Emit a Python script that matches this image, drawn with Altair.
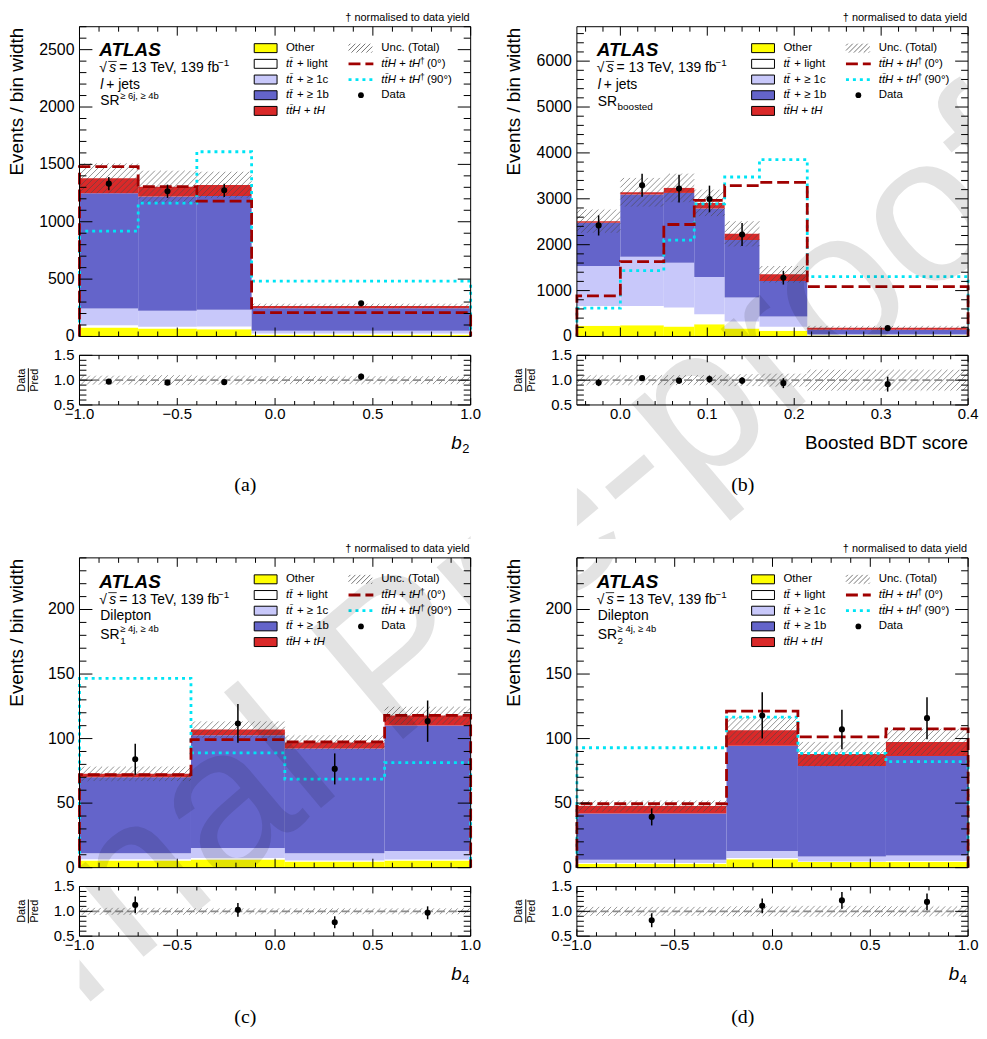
import math
import altair as alt
import pandas as pd

FONT = "Liberation Sans"
SERIF = "Liberation Serif"

PROCS = ["Other", "tt+light", "tt+1c", "tt+1b", "ttH+tH"]
PROC_COLORS = ["#ffff00", "#ffffff", "#c8c8fa", "#6464cb", "#da2a2a"]
CP0_COLOR = "#a00000"
CP90_COLOR = "#00e5f5"

# ---------------- panel (a): l+jets, SR >=6j >=4b, b2 ----------------
a_edges = [-1.0, -0.7, -0.4, -0.12, 1.0]
a_other = [78, 70, 64, 14]
a_light = [20, 14, 23, 12]
a_c = [145, 141, 147, 23]
a_b = [1006, 995, 991, 197]
a_tth = [130, 86, 96, 20]
a_unc = [130, 139, 115, 20]
a_data = [1332, 1266, 1274, 289]
a_data_err = [58, 58, 58, 17]
a_cp0 = [1480, 1306, 1179, 208]
a_cp90 = [919, 1162, 1610, 483]
a_ratio = [0.97, 0.95, 0.96, 1.07]
a_ratio_err = [0.04, 0.04, 0.04, 0.06]
a_ratio_unc = [0.09, 0.10, 0.09, 0.08]
a_xlabels = [-1.0, -0.5, 0.0, 0.5, 1.0]
a_ylabels = [0, 500, 1000, 1500, 2000, 2500]

# ---------------- panel (b): l+jets, SR boosted, BDT score ----------------
b_edges = [-0.05, 0.0, 0.05, 0.085, 0.12, 0.16, 0.215, 0.4]
b_other = [232, 246, 217, 268, 174, 123, 22]
b_light = [434, 420, 413, 217, 152, 87, 7]
b_c = [869, 1072, 977, 811, 521, 224, 21]
b_b = [942, 1355, 1521, 1491, 1253, 775, 95]
b_tth = [36, 50, 109, 124, 137, 145, 43]
b_unc = [253, 312, 311, 289, 275, 181, 44]
b_data = [2420, 3295, 3222, 2997, 2223, 1281, 181]
b_data_err = [220, 250, 300, 290, 250, 150, 30]
b_cp0 = [883, 1630, 2440, 2968, 3287, 3359, 1086]
b_cp90 = [616, 1434, 2100, 2889, 3475, 3852, 1303]
b_ratio = [0.95, 1.04, 0.99, 1.02, 0.99, 0.94, 0.92]
b_ratio_err = [0.07, 0.04, 0.06, 0.07, 0.07, 0.10, 0.15]
b_ratio_unc = [0.10, 0.10, 0.10, 0.10, 0.12, 0.13, 0.21]
b_xlabels = [0.0, 0.1, 0.2, 0.3, 0.4]
b_ylabels = [0, 1000, 2000, 3000, 4000, 5000, 6000]

# ---------------- panel (c): dilepton, SR1, b4 ----------------
c_edges = [-1.0, -0.43, 0.05, 0.56, 1.0]
c_other = [5.6, 6.4, 4.8, 5.6]
c_light = [1.0, 1.0, 0.8, 0.8]
c_c = [4.6, 7.9, 5.6, 6.4]
c_b = [58.8, 87.3, 81.1, 97.4]
c_tth = [2.7, 4.4, 4.7, 7.7]
c_unc = [5.6, 6.3, 5.6, 6.8]
c_data = [84, 111.7, 76.5, 113.5]
c_data_err = [12, 15, 12, 16]
c_cp0 = [72, 99.2, 97.4, 117.9]
c_cp90 = [146.7, 89, 68.6, 81.4]
c_ratio = [1.13, 1.03, 0.78, 0.97]
c_ratio_err = [0.17, 0.14, 0.12, 0.13]
c_ratio_unc = [0.07, 0.06, 0.06, 0.06]
c_xlabels = [-1.0, -0.5, 0.0, 0.5, 1.0]
c_ylabels = [0, 50, 100, 150, 200]

# ---------------- panel (d): dilepton, SR2, b4 ----------------
d_edges = [-1.0, -0.235, 0.13, 0.58, 1.0]
d_other = [3.1, 6.6, 4.3, 4.6]
d_light = [0.5, 0.8, 0.5, 0.5]
d_c = [2.5, 5.4, 3.9, 4.3]
d_b = [35.9, 81.6, 70.1, 77.1]
d_tth = [5.7, 12.0, 9.2, 10.9]
d_unc = [4.3, 10.2, 9.4, 10.2]
d_data = [39.3, 117.9, 107.1, 115.8]
d_data_err = [6.6, 17.9, 15.3, 16.3]
d_cp0 = [49.5, 121.2, 101.3, 107.6]
d_cp90 = [92.9, 116.6, 88.5, 82.1]
d_ratio = [0.82, 1.11, 1.22, 1.19]
d_ratio_err = [0.14, 0.15, 0.17, 0.17]
d_ratio_unc = [0.09, 0.10, 0.11, 0.10]
d_xlabels = [-1.0, -0.5, 0.0, 0.5, 1.0]
d_ylabels = [0, 50, 100, 150, 200]

ratio_ylabels = [0.5, 1.0, 1.5]

# ---------------- layout ----------------
W = 394
H = 312
RH = 50
GAP = 19
CS = 107
RS = 154
RCELL = RH + RS - GAP   # ratio cell includes room for its labels, title and caption
OX, OY = 80.5, 23.0     # approximate page origin of panel (a) plot

PANELS = [
    dict(edges=a_edges, other=a_other, light=a_light, c=a_c, b=a_b, tth=a_tth, unc=a_unc,
         data=a_data, err=a_data_err, cp0=a_cp0, cp90=a_cp90, ratio=a_ratio, rerr=a_ratio_err,
         runc=a_ratio_unc, xlabels=a_xlabels, ylabels=a_ylabels, ymax=2700, ymaj=500, ymin=100,
         xmaj=0.5, xmin=0.1, channel="ljets", sr="a", xtitle=("b", "2"), caption="(a)"),
    dict(edges=b_edges, other=b_other, light=b_light, c=b_c, b=b_b, tth=b_tth, unc=b_unc,
         data=b_data, err=b_data_err, cp0=b_cp0, cp90=b_cp90, ratio=b_ratio, rerr=b_ratio_err,
         runc=b_ratio_unc, xlabels=b_xlabels, ylabels=b_ylabels, ymax=6750, ymaj=1000, ymin=200,
         xmaj=0.1, xmin=0.02, channel="ljets", sr="b", xtitle=("Boosted BDT score", None), caption="(b)"),
    dict(edges=c_edges, other=c_other, light=c_light, c=c_c, b=c_b, tth=c_tth, unc=c_unc,
         data=c_data, err=c_data_err, cp0=c_cp0, cp90=c_cp90, ratio=c_ratio, rerr=c_ratio_err,
         runc=c_ratio_unc, xlabels=c_xlabels, ylabels=c_ylabels, ymax=240, ymaj=50, ymin=10,
         xmaj=0.5, xmin=0.1, channel="dilep", sr="c", xtitle=("b", "4"), caption="(c)"),
    dict(edges=d_edges, other=d_other, light=d_light, c=d_c, b=d_b, tth=d_tth, unc=d_unc,
         data=d_data, err=d_data_err, cp0=d_cp0, cp90=d_cp90, ratio=d_ratio, rerr=d_ratio_err,
         runc=d_ratio_unc, xlabels=d_xlabels, ylabels=d_ylabels, ymax=240, ymaj=50, ymin=10,
         xmaj=0.5, xmin=0.1, channel="dilep", sr="d", xtitle=("b", "4"), caption="(d)"),
]

OY2 = OY + H + GAP + RH + RS
ORIGINS = [
    ((OX, OY), (OX, OY + H + GAP)),
    ((OX + W + CS, OY), (OX + W + CS, OY + H + GAP)),
    ((OX, OY2), (OX, OY2 + H + GAP)),
    ((OX + W + CS, OY2), (OX + W + CS, OY2 + H + GAP)),
]
WM_TEXT = "Journal Pre-proof"
WM_CENTER = (402.0, 662.0)


def fmt_num(v, dec):
    s = f"{v:.{dec}f}" if dec else f"{int(round(v))}"
    return s.replace("-", "\u2212")


def tick_values(lo, hi, step):
    n0 = math.ceil(lo / step - 1e-9)
    n1 = math.floor(hi / step + 1e-9)
    return [round(k * step, 6) for k in range(n0, n1 + 1)]


def minor_values(lo, hi, step, major):
    majors = tick_values(lo, hi, major)
    return [v for v in tick_values(lo, hi, step) if all(abs(v - m) > step * 0.01 for m in majors)]


def T(t, x, y, fs, style="normal", weight="normal", align="left", baseline="alphabetic",
      angle=0, font=FONT, color="black", opacity=1.0):
    return dict(t=t, x=x, y=y, fs=fs, style=style, weight=weight, align=align,
                baseline=baseline, angle=angle, font=font, color=color, opacity=opacity)


def text_layers(items, clip=False):
    groups, order = {}, []
    for it in items:
        key = (it["style"], it["weight"], it["align"], it["baseline"], it["angle"],
               it["font"], it["color"], it["opacity"])
        if key not in groups:
            groups[key] = []
            order.append(key)
        groups[key].append(it)
    layers = []
    for key in order:
        style, weight, align, baseline, angle, font, color, op = key
        its = groups[key]
        df = pd.DataFrame({"tx": [i["x"] for i in its], "ty": [i["y"] for i in its],
                           "t": [i["t"] for i in its], "fs": [i["fs"] for i in its]})
        kw = dict(fontStyle=style, fontWeight=weight, align=align, baseline=baseline,
                  font=font, color=color, opacity=op)
        if angle:
            kw["angle"] = angle
        if clip:
            kw["clip"] = True
        layers.append(alt.Chart(df).mark_text(**kw).encode(
            x=alt.X("tx:Q", scale=None, axis=None),
            y=alt.Y("ty:Q", scale=None, axis=None),
            text=alt.Text("t:N"),
            size=alt.Size("fs:Q", scale=None, legend=None)))
    return layers


def ylabel_layer(vals, dec, ys, fs):
    df = pd.DataFrame({"v": vals, "lab": [fmt_num(v, dec) for v in vals]})
    return alt.Chart(df).mark_text(align="right", baseline="middle", font=FONT, fontSize=fs,
                                   color="black").encode(
        y=alt.Y("v:Q", scale=ys, axis=None), x=alt.value(-5), text=alt.Text("lab:N"))


def xlabel_layer(vals, dec, xs, fs, ypix):
    df = pd.DataFrame({"v": vals, "lab": [fmt_num(v, dec) for v in vals]})
    return alt.Chart(df).mark_text(align="center", baseline="top", font=FONT, fontSize=fs,
                                   color="black").encode(
        x=alt.X("v:Q", scale=xs, axis=None), y=alt.value(ypix), text=alt.Text("lab:N"))


def hatch_df(x0s, x1s, lo, hi, sx, sy, step=6.0, yoff=0.0):
    hx, hy, hx2, hy2 = [], [], [], []
    for xa, xb, ya, yb in zip(x0s, x1s, lo, hi):
        X0, X1 = xa * sx, xb * sx
        Y0, Y1 = (ya - yoff) * sy, (yb - yoff) * sy
        k0 = math.ceil((Y0 - X1) / step)
        k1 = math.floor((Y1 - X0) / step)
        for k in range(k0, k1 + 1):
            c = k * step
            xs_ = max(X0, Y0 - c)
            xe = min(X1, Y1 - c)
            if xe - xs_ > 0.3:
                hx.append(xs_ / sx)
                hy.append((xs_ + c) / sy + yoff)
                hx2.append(xe / sx)
                hy2.append((xe + c) / sy + yoff)
    return pd.DataFrame(dict(hx=hx, hy=hy, hx2=hx2, hy2=hy2))


def step_df(edges, vals):
    pts = [(edges[0], 0.0)]
    for i, v in enumerate(vals):
        pts.append((edges[i], v))
        pts.append((edges[i + 1], v))
    pts.append((edges[-1], 0.0))
    return pd.DataFrame({"sx": [p[0] for p in pts], "sy": [p[1] for p in pts], "o": list(range(len(pts)))})


def tick_layers(xs, ys, xmaj, xmin_, ymaj, ymin_, ph, ylen=(13, 7), xlen=(9, 5)):
    layers = []
    for vals, L in [(ymaj, ylen[0]), (ymin_, ylen[1])]:
        if not vals:
            continue
        df = pd.DataFrame({"v": vals})
        for a, b in [(0, L), (W - L, W)]:
            layers.append(alt.Chart(df).mark_rule(color="black", strokeWidth=1).encode(
                y=alt.Y("v:Q", scale=ys, axis=None), x=alt.value(a), x2=alt.value(b)))
    for vals, L in [(xmaj, xlen[0]), (xmin_, xlen[1])]:
        if not vals:
            continue
        df = pd.DataFrame({"v": vals})
        for a, b in [(0, L), (ph - L, ph)]:
            layers.append(alt.Chart(df).mark_rule(color="black", strokeWidth=1).encode(
                x=alt.X("v:Q", scale=xs, axis=None), y=alt.value(a), y2=alt.value(b)))
    return layers


def frame_layer(ph):
    df = pd.DataFrame({"x": [0], "x2": [W], "y": [0], "y2": [ph]})
    return alt.Chart(df).mark_rect(fillOpacity=0, stroke="black", strokeWidth=1).encode(
        x=alt.X("x:Q", scale=None, axis=None), x2="x2:Q",
        y=alt.Y("y:Q", scale=None, axis=None), y2="y2:Q")


def watermark_layers(origin):
    ox, oy = origin
    items = [T(WM_TEXT, WM_CENTER[0] - ox, WM_CENTER[1] - oy, 210, align="center",
               baseline="middle", angle=320, color="black", opacity=0.11)]
    return text_layers(items, clip=True)


LEG_CY = [21.6 + 15.8 * i for i in range(5)]
LF = 11.5


def legend_layers():
    layers = []
    cy = LEG_CY
    rects = pd.DataFrame({"x": [176] * 5, "x2": [199] * 5, "y": [c - 4.5 for c in cy],
                          "y2": [c + 4.5 for c in cy], "fill": PROC_COLORS})
    layers.append(alt.Chart(rects).mark_rect(stroke="black", strokeWidth=1).encode(
        x=alt.X("x:Q", scale=None, axis=None), x2="x2:Q",
        y=alt.Y("y:Q", scale=None, axis=None), y2="y2:Q",
        fill=alt.Fill("fill:N", scale=None, legend=None)))
    h = hatch_df([271], [295], [-(cy[0] + 4.5)], [-(cy[0] - 4.5)], 1.0, 1.0, step=5.0)
    h["hy"] = -h["hy"]
    h["hy2"] = -h["hy2"]
    layers.append(alt.Chart(h).mark_rule(color="#666666", strokeWidth=0.9).encode(
        x=alt.X("hx:Q", scale=None, axis=None), x2="hx2:Q",
        y=alt.Y("hy:Q", scale=None, axis=None), y2="hy2:Q"))
    for row, color, dash in [(1, CP0_COLOR, [12, 5]), (2, CP90_COLOR, [3, 4])]:
        df = pd.DataFrame({"x": [271], "x2": [296], "y": [cy[row]]})
        layers.append(alt.Chart(df).mark_rule(color=color, strokeDash=dash, strokeWidth=2.8).encode(
            x=alt.X("x:Q", scale=None, axis=None), x2="x2:Q", y=alt.Y("y:Q", scale=None, axis=None)))
    df = pd.DataFrame({"x": [283.5], "y": [cy[3]]})
    layers.append(alt.Chart(df).mark_circle(color="black", opacity=1, size=34).encode(
        x=alt.X("x:Q", scale=None, axis=None), y=alt.Y("y:Q", scale=None, axis=None)))
    df = pd.DataFrame({"x": [29.0], "x2": [37.5], "y": [35.0]})
    layers.append(alt.Chart(df).mark_rule(color="black", strokeWidth=0.8).encode(
        x=alt.X("x:Q", scale=None, axis=None), x2="x2:Q", y=alt.Y("y:Q", scale=None, axis=None)))
    return layers


def main_text_items(p):
    it = []
    it.append(T("ATLAS", 20, 30, 19, style="italic", weight="bold"))
    it.append(T("√", 20, 46, 14))
    it.append(T("s", 30, 46, 14, style="italic"))
    it.append(T("= 13 TeV, 139 fb", 40, 46, 14))
    it.append(T("−1", 139.5, 40, 10))
    if p["channel"] == "ljets":
        it.append(T("l", 21, 63, 14, style="italic"))
        it.append(T("+ jets", 27, 63, 14))
    else:
        it.append(T("Dilepton", 21, 63, 14))
    if p["sr"] == "a":
        it.append(T("SR", 21, 79, 14))
        it.append(T("≥ 6j, ≥ 4b", 41, 73, 9.5))
    elif p["sr"] == "b":
        it.append(T("SR", 21, 80, 14))
        it.append(T("boosted", 41, 84, 10))
    else:
        it.append(T("SR", 21, 82, 14))
        it.append(T("1" if p["sr"] == "c" else "2", 41, 87, 10))
        it.append(T("≥ 4j, ≥ 4b", 41, 75, 9.5))
    cy = LEG_CY
    it.append(T("Other", 208, cy[0], LF, baseline="middle"))
    for i, suf in [(1, "+ light"), (2, "+ ≥ 1c"), (3, "+ ≥ 1b")]:
        it.append(T("tt̄", 208, cy[i], LF, style="italic", baseline="middle"))
        it.append(T(suf, 219, cy[i], LF, baseline="middle"))
    it.append(T("tt̄H + tH", 208, cy[4], LF, style="italic", baseline="middle"))
    it.append(T("Unc. (Total)", 304, cy[0], LF, baseline="middle"))
    for i, ang in [(1, "(0°)"), (2, "(90°)")]:
        it.append(T("tt̄H + tH", 304, cy[i], LF, style="italic", baseline="middle"))
        it.append(T("†", 343, cy[i] - 3, 8.5, baseline="middle"))
        it.append(T(ang, 350, cy[i], LF, baseline="middle"))
    it.append(T("Data", 304, cy[3], LF, baseline="middle"))
    it.append(T("† normalised to data yield", W - 1, -6, 11, align="right"))
    it.append(T("Events / bin width", -63, 1, 19, align="right", baseline="middle", angle=270))
    return it


def ratio_text_items(p):
    it = []
    it.append(T("Data", -58, 25, 11, align="center", baseline="middle", angle=270))
    it.append(T("Pred", -45, 25, 11, align="center", baseline="middle", angle=270))
    t1, t2 = p["xtitle"]
    if t2 is None:
        it.append(T(t1, W, 94, 19, align="right"))
    else:
        it.append(T(t1, W - 9, 94, 19, style="italic", align="right"))
        it.append(T(t2, W - 8.5, 98, 13))
    it.append(T(p["caption"], W / 2 - 30, 137, 20, align="center", font=SERIF))
    return it


def build_panel(p, origins):
    edges = p["edges"]
    n = len(edges) - 1
    x0, x1 = edges[0], edges[-1]
    ymax = p["ymax"]
    xs = alt.Scale(domain=[x0, x1], nice=False, zero=False)
    ys = alt.Scale(domain=[0, ymax], nice=False, zero=False)
    comps = [p["other"], p["light"], p["c"], p["b"], p["tth"]]
    rows, totals = [], []
    for i in range(n):
        base = 0.0
        for name, vals in zip(PROCS, comps):
            rows.append({"x": edges[i], "x2": edges[i + 1], "y": base, "y2": base + vals[i], "proc": name})
            base += vals[i]
        totals.append(base)
    centers = [(edges[i] + edges[i + 1]) / 2 for i in range(n)]
    xdec = 1

    ml = []
    ml.append(alt.Chart(pd.DataFrame(rows)).mark_rect(strokeWidth=0).encode(
        x=alt.X("x:Q", scale=xs, axis=None), x2="x2:Q",
        y=alt.Y("y:Q", scale=ys, axis=None), y2="y2:Q",
        color=alt.Color("proc:N", scale=alt.Scale(domain=PROCS, range=PROC_COLORS), legend=None)))
    sx = W / (x1 - x0)
    sy = H / ymax
    lo = [t - u for t, u in zip(totals, p["unc"])]
    hi = [t + u for t, u in zip(totals, p["unc"])]
    hd = hatch_df(edges[:-1], edges[1:], lo, hi, sx, sy, step=6.0)
    ml.append(alt.Chart(hd).mark_rule(color="#4a4a4a", strokeWidth=0.8, opacity=0.75).encode(
        x=alt.X("hx:Q", scale=xs, axis=None), x2="hx2:Q",
        y=alt.Y("hy:Q", scale=ys, axis=None), y2="hy2:Q"))
    for vals, color, dash in [(p["cp90"], CP90_COLOR, [3, 4]), (p["cp0"], CP0_COLOR, [12, 5])]:
        ml.append(alt.Chart(step_df(edges, vals)).mark_line(color=color, strokeDash=dash, strokeWidth=2.8).encode(
            x=alt.X("sx:Q", scale=xs, axis=None), y=alt.Y("sy:Q", scale=ys, axis=None),
            order=alt.Order("o:Q")))
    dd = pd.DataFrame({"x": centers, "y": p["data"],
                       "lo": [v - e for v, e in zip(p["data"], p["err"])],
                       "hi": [v + e for v, e in zip(p["data"], p["err"])]})
    ml.append(alt.Chart(dd).mark_rule(color="black", strokeWidth=1.5).encode(
        x=alt.X("x:Q", scale=xs, axis=None), y=alt.Y("lo:Q", scale=ys, axis=None), y2="hi:Q"))
    ml.append(alt.Chart(dd).mark_circle(color="black", opacity=1, size=38).encode(
        x=alt.X("x:Q", scale=xs, axis=None), y=alt.Y("y:Q", scale=ys, axis=None)))
    ml += tick_layers(xs, ys, tick_values(x0, x1, p["xmaj"]), minor_values(x0, x1, p["xmin"], p["xmaj"]),
                      tick_values(0, ymax, p["ymaj"]), minor_values(0, ymax, p["ymin"], p["ymaj"]), H,
                      ylen=(13, 7), xlen=(9, 5))
    ml.append(ylabel_layer(p["ylabels"], 0, ys, 16))
    ml += legend_layers()
    ml += text_layers(main_text_items(p))
    ml.append(frame_layer(H))
    ml += watermark_layers(origins[0])
    main = alt.layer(*ml).properties(width=W, height=H)

    # ratio (cell is taller than the plot; the plot uses the top RH pixels)
    rys = alt.Scale(domain=[0.5, 1.5], range=[RH, 0], nice=False, zero=False)
    rl = []
    rlo = [1 - u for u in p["runc"]]
    rhi = [1 + u for u in p["runc"]]
    rh = hatch_df(edges[:-1], edges[1:], rlo, rhi, sx, RH / 1.0, step=6.0, yoff=0.5)
    rl.append(alt.Chart(rh).mark_rule(color="#8a8a8a", strokeWidth=0.9).encode(
        x=alt.X("hx:Q", scale=xs, axis=None), x2="hx2:Q",
        y=alt.Y("hy:Q", scale=rys, axis=None), y2="hy2:Q"))
    rl.append(alt.Chart(pd.DataFrame({"v": [1.0]})).mark_rule(color="#8c8c8c", strokeDash=[8, 4], strokeWidth=1.8).encode(
        y=alt.Y("v:Q", scale=rys, axis=None), x=alt.value(0), x2=alt.value(W)))
    rd = pd.DataFrame({"x": centers, "y": p["ratio"],
                       "lo": [v - e for v, e in zip(p["ratio"], p["rerr"])],
                       "hi": [v + e for v, e in zip(p["ratio"], p["rerr"])]})
    rl.append(alt.Chart(rd).mark_rule(color="black", strokeWidth=1.5).encode(
        x=alt.X("x:Q", scale=xs, axis=None), y=alt.Y("lo:Q", scale=rys, axis=None), y2="hi:Q"))
    rl.append(alt.Chart(rd).mark_circle(color="black", opacity=1, size=38).encode(
        x=alt.X("x:Q", scale=xs, axis=None), y=alt.Y("y:Q", scale=rys, axis=None)))
    rl += tick_layers(xs, rys, tick_values(x0, x1, p["xmaj"]), minor_values(x0, x1, p["xmin"], p["xmaj"]),
                      tick_values(0.5, 1.5, 0.5), minor_values(0.5, 1.5, 0.1, 0.5), RH,
                      ylen=(13, 7), xlen=(7, 4))
    rl.append(ylabel_layer(ratio_ylabels, 1, rys, 15))
    rl.append(xlabel_layer(p["xlabels"], xdec, xs, 15, RH + 2))
    fl = pd.DataFrame({"x": [-51.5], "y": [13.0], "y2": [37.0]})
    rl.append(alt.Chart(fl).mark_rule(color="black", strokeWidth=1).encode(
        x=alt.X("x:Q", scale=None, axis=None), y=alt.Y("y:Q", scale=None, axis=None), y2="y2:Q"))
    rl += text_layers(ratio_text_items(p))
    rl.append(frame_layer(RH))
    rl += watermark_layers(origins[1])
    ratio = alt.layer(*rl).properties(width=W, height=RCELL)
    return main, ratio


built = [build_panel(p, o) for p, o in zip(PANELS, ORIGINS)]
cells = [built[0][0], built[1][0], built[0][1], built[1][1],
         built[2][0], built[3][0], built[2][1], built[3][1]]
chart = alt.concat(*cells, columns=2, spacing={"row": GAP, "column": CS}, bounds="flush")
chart = chart.resolve_scale(x="independent", y="independent")
chart = chart.properties(padding=0, background="white")
chart = chart.configure(font=FONT).configure_view(strokeOpacity=0)

chart.save("out.html", embed_options={"renderer": "svg", "actions": False})
